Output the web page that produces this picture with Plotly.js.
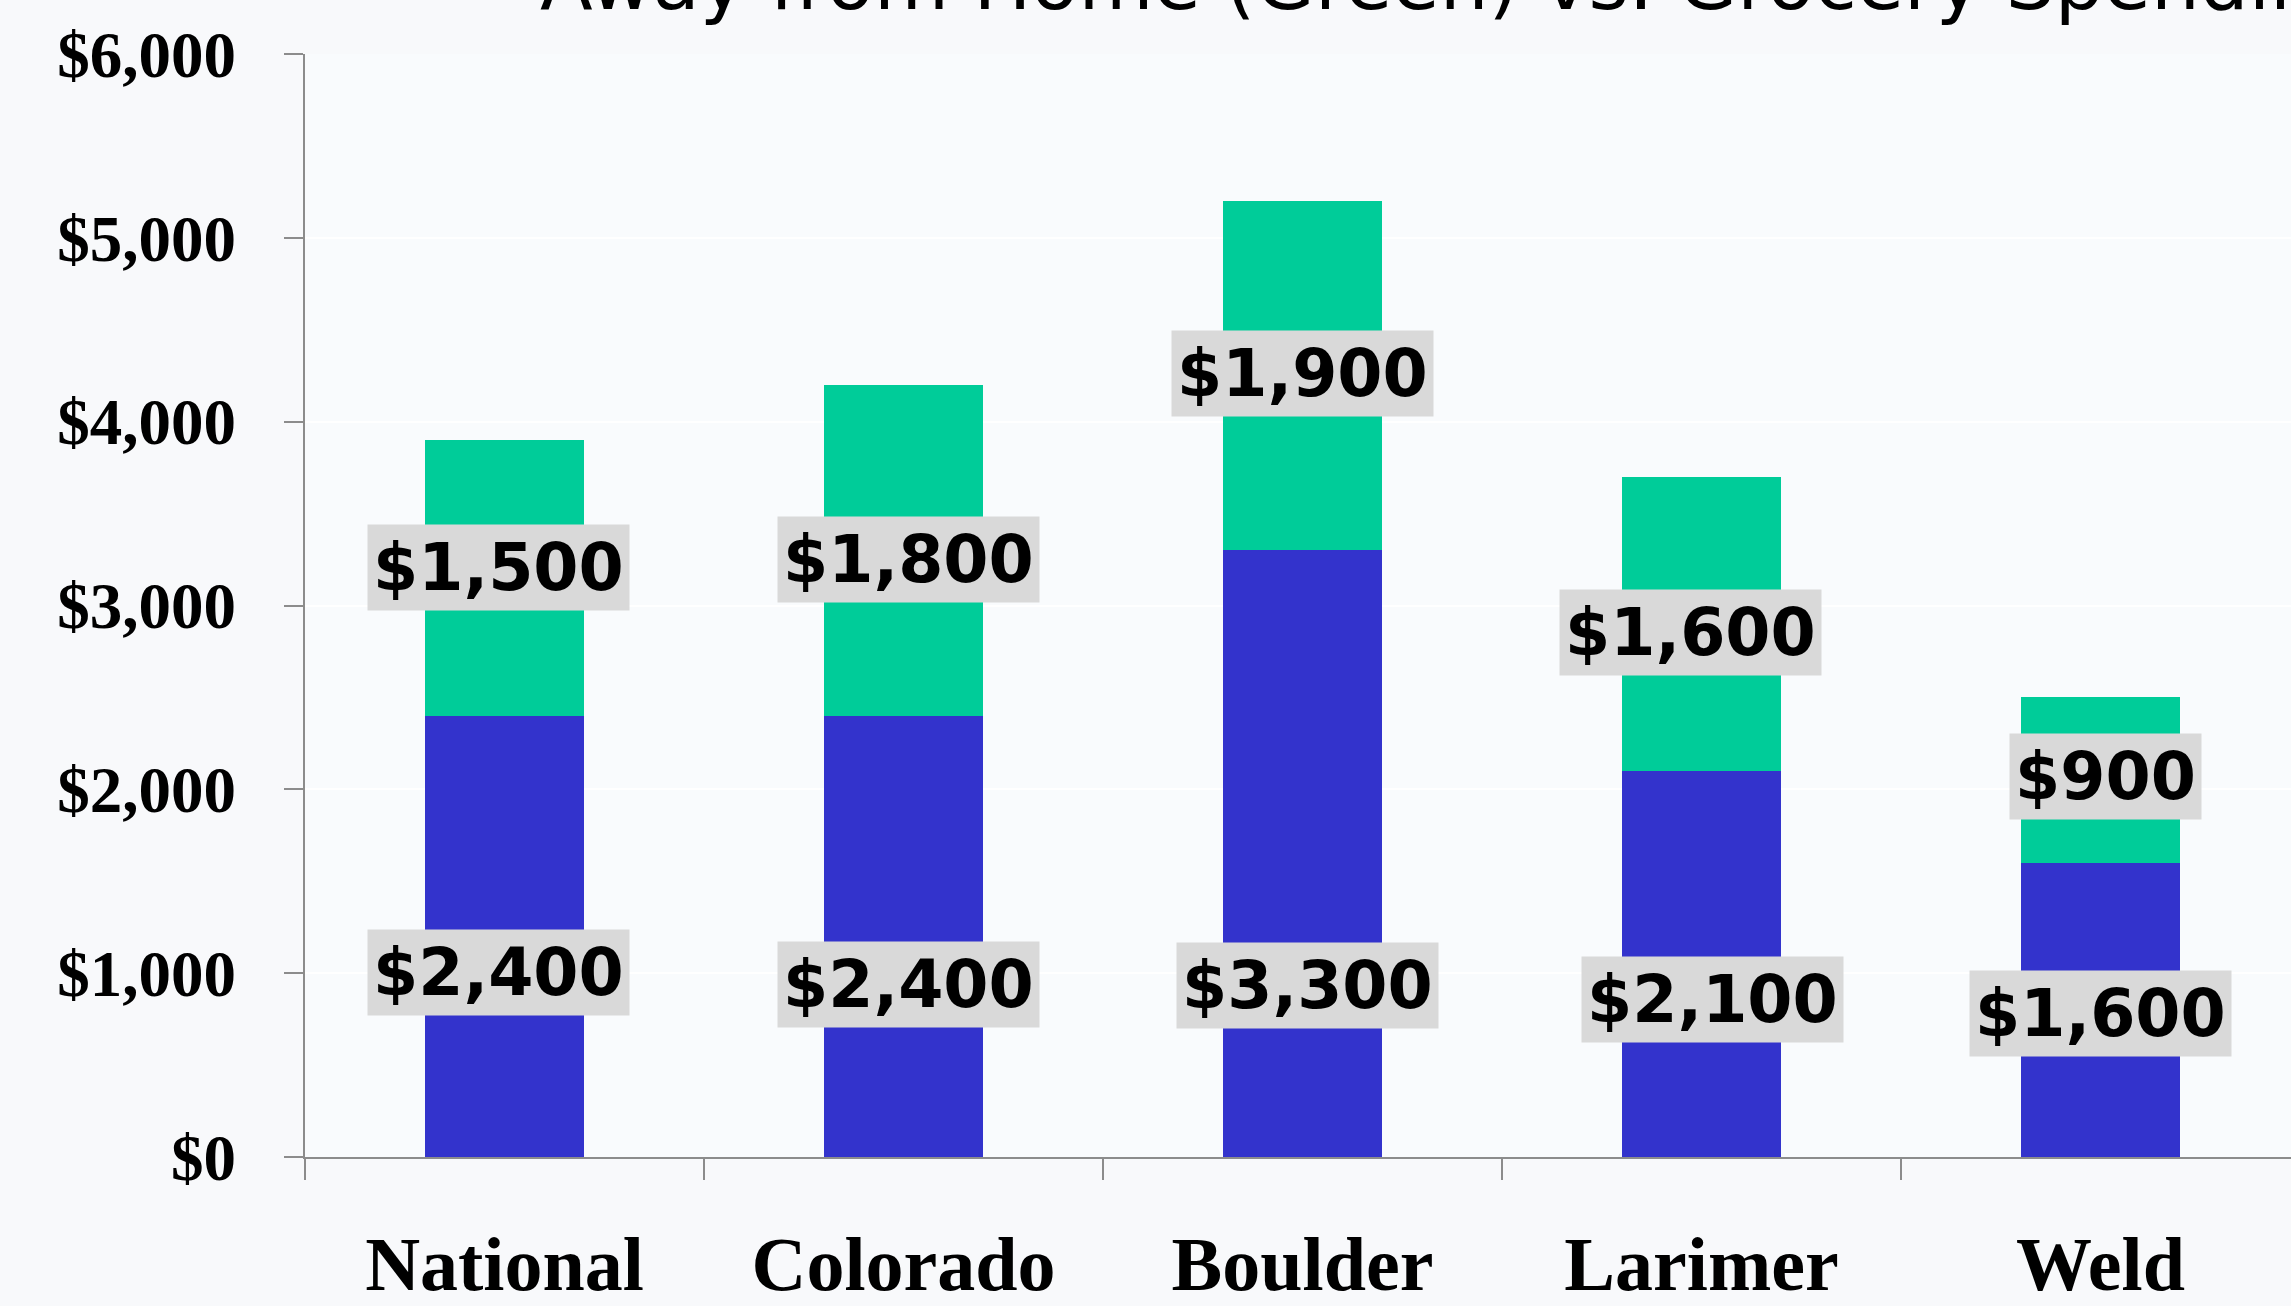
<!DOCTYPE html>
<html>
<head>
<meta charset="utf-8">
<script src="https://cdn.plot.ly/plotly-3.0.1.min.js"></script>
<style>
  html, body { margin: 0; padding: 0; overflow: hidden; background: #f8f9fb; }
  #chart { width: 2300px; height: 1306px; }
</style>
</head>
<body>
<div id="chart"></div>
<script>
// ---- Data ----
const categories = ["National", "Colorado", "Boulder", "Larimer", "Weld"];
const groceryBlue = [2400, 2400, 3300, 2100, 1600];
const awayGreen = [1500, 1800, 1900, 1600, 900];
const yTickValues = [0, 1000, 2000, 3000, 4000, 5000, 6000];
const yTickLabels = ["$0", "$1,000", "$2,000", "$3,000", "$4,000", "$5,000", "$6,000"];
const titleText = "Away from Home (Green) vs. Grocery Spending";

// ---- Styling (label nudges in pixels, not data) ----
const blueColor = "#3333cc";
const greenColor = "#00cc99";
const greenNudge = [[-6, 10], [5, -9], [0, 2], [-11, -9], [5, 4]];
const blueNudge = [[-6, -36], [5, -48], [5, -132], [11, -36], [0, -4]];

function money(v) { return "$" + v.toLocaleString("en-US"); }

const traces = [
  {
    type: "bar", x: categories, y: groceryBlue, name: "Grocery",
    marker: { color: blueColor, line: { width: 0 } },
    hoverinfo: "none"
  },
  {
    type: "bar", x: categories, y: awayGreen, name: "Away from Home",
    marker: { color: greenColor, line: { width: 0 } },
    hoverinfo: "none"
  }
];

const labelFont = { family: "DejaVu Sans, Verdana, sans-serif", size: 65, color: "#000000", weight: 700 };
const annotations = [];
categories.forEach((c, i) => {
  annotations.push({
    x: c, y: groceryBlue[i] + awayGreen[i] / 2, xref: "x", yref: "y",
    text: money(awayGreen[i]), showarrow: false,
    font: labelFont, bgcolor: "#d9d9d9", borderpad: 5,
    xshift: greenNudge[i][0], yshift: greenNudge[i][1]
  });
  annotations.push({
    x: c, y: groceryBlue[i] / 2, xref: "x", yref: "y",
    text: money(groceryBlue[i]), showarrow: false,
    font: labelFont, bgcolor: "#d9d9d9", borderpad: 5,
    xshift: blueNudge[i][0], yshift: blueNudge[i][1]
  });
});

const layout = {
  width: 2300, height: 1306,
  paper_bgcolor: "#f8f9fb",
  plot_bgcolor: "#f9fbfd",
  margin: { l: 305, r: 0, t: 54, b: 149, pad: 0 },
  barmode: "stack",
  bargap: 0.6,
  showlegend: false,
  title: {
    text: titleText,
    font: { family: "DejaVu Sans, Verdana, sans-serif", size: 77, color: "#000000" },
    xref: "container", yref: "container",
    x: 540 / 2300, xanchor: "left",
    y: 1 - 9 / 1306, yanchor: "bottom"
  },
  xaxis: {
    type: "category",
    range: [-0.5, 4.5],
    showline: true, linecolor: "#8c8c8c", linewidth: 2,
    ticks: "outside", tickson: "boundaries", ticklen: 21, tickcolor: "#8c8c8c", tickwidth: 2,
    showgrid: false,
    tickfont: { family: "Liberation Serif, Times New Roman, serif", size: 76, color: "#000000", weight: 700 },
    ticklabelstandoff: 40
  },
  yaxis: {
    range: [0, 6000],
    tickvals: yTickValues, ticktext: yTickLabels,
    showline: true, linecolor: "#8c8c8c", linewidth: 2,
    ticks: "outside", ticklen: 19, tickcolor: "#8c8c8c", tickwidth: 2,
    showgrid: true, gridcolor: "#ffffff", gridwidth: 2,
    zeroline: false,
    tickfont: { family: "Liberation Serif, Times New Roman, serif", size: 65, color: "#000000", weight: 700 },
    ticklabelstandoff: 35
  },
  annotations: annotations
};

Plotly.newPlot("chart", traces, layout, { staticPlot: true, displayModeBar: false });
</script>
</body>
</html>
